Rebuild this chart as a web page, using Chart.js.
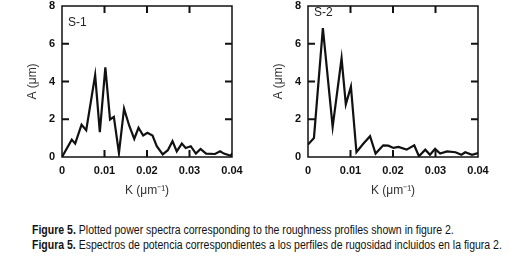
<!DOCTYPE html>
<html>
<head>
<meta charset="utf-8">
<script src="https://cdn.jsdelivr.net/npm/chart.js@4"></script>
<style>
  body { margin: 0; background: #fff; width: 510px; height: 261px; overflow: hidden; position: relative; }
  .panel { position: absolute; top: 0; width: 255px; height: 200px; }
  #panelS1 { left: 0; }
  #panelS2 { left: 255px; }
  .caption { position: absolute; left: 32px; font-family: "Liberation Sans", Arial, sans-serif; font-size: 12px; color: #111; white-space: nowrap; transform-origin: left top; }
  .caption b { font-weight: bold; }
</style>
</head>
<body>
<div class="panel" id="panelS1"><canvas id="chartS1"></canvas></div>
<div class="panel" id="panelS2"><canvas id="chartS2"></canvas></div>
<div class="caption" id="cap1" style="top:223px"><b>Figure 5.</b> Plotted power spectra corresponding to the roughness profiles shown in figure 2.</div>
<div class="caption" id="cap2" style="top:238px"><b>Figura 5.</b> Espectros de potencia correspondientes a los perfiles de rugosidad incluidos en la figura 2.</div>
<script>
// espectros (K en um^-1, A en um)
const s1K = [0, 0.0023, 0.0031, 0.0046, 0.0057, 0.0078, 0.0089, 0.0102, 0.0113, 0.0122, 0.0134,
  0.0146, 0.0158, 0.0170, 0.0180, 0.0191, 0.0201, 0.0213, 0.0223, 0.0237, 0.0249, 0.0260,
  0.0270, 0.0282, 0.0291, 0.0303, 0.0315, 0.0326, 0.0339, 0.0360, 0.0372, 0.0381, 0.0397, 0.0401];
const s1A = [0, 0.92, 0.71, 1.71, 1.42, 4.34, 1.32, 4.75, 1.99, 2.13, 0.21,
  2.56, 1.67, 0.96, 1.55, 1.14, 1.28, 1.14, 0.57, 0.14, 0.36, 0.84,
  0.30, 0.71, 0.48, 0.57, 0.18, 0.43, 0.18, 0.16, 0.30, 0.18, 0.07, 0.21];

const s2K = [0, 0.0014, 0.0035, 0.0058, 0.0079, 0.0089, 0.0101, 0.0114, 0.0130, 0.0146, 0.0159,
  0.0177, 0.0189, 0.0201, 0.0213, 0.0232, 0.0250, 0.0261, 0.0276, 0.0287, 0.0299, 0.0311,
  0.0327, 0.0347, 0.0361, 0.0370, 0.0386, 0.0400];
const s2A = [0.66, 1.01, 6.83, 1.60, 5.23, 2.79, 3.73, 0.25, 0.70, 1.10, 0.18,
  0.62, 0.60, 0.48, 0.53, 0.39, 0.62, 0.04, 0.39, 0.12, 0.43, 0.18,
  0.30, 0.25, 0.12, 0.25, 0.12, 0.21];

const xTicks = [0, 0.01, 0.02, 0.03, 0.04];
const yTicks = [0, 2, 4, 6, 8];
const xTitle = 'K (\u03bcm\u207b\u00b9)';
const yTitle = 'A (\u03bcm)';

// marco y marcas interiores como en la figura original
const framePlugin = {
  id: 'frame',
  afterDraw(chart, args, opts) {
    const { ctx, chartArea: a } = chart;
    const xs = chart.scales.x, ys = chart.scales.y;
    const len = 7;
    ctx.save();
    ctx.strokeStyle = '#111';
    ctx.lineWidth = 1.5;
    ctx.strokeRect(a.left, a.top, a.right - a.left, a.bottom - a.top);
    ctx.lineWidth = 2;
    ctx.beginPath();
    xTicks.slice(1, -1).forEach(v => {
      const px = xs.getPixelForValue(v);
      ctx.moveTo(px, a.bottom); ctx.lineTo(px, a.bottom - len);
      ctx.moveTo(px, a.top); ctx.lineTo(px, a.top + len);
    });
    yTicks.slice(1, -1).forEach(v => {
      const py = ys.getPixelForValue(v);
      ctx.moveTo(a.left, py); ctx.lineTo(a.left + len, py);
      ctx.moveTo(a.right, py); ctx.lineTo(a.right - len, py);
    });
    ctx.stroke();
    // etiqueta de la muestra
    ctx.fillStyle = '#222';
    ctx.font = '12px "Liberation Sans", Arial, sans-serif';
    ctx.textBaseline = 'middle';
    ctx.fillText(opts.label, a.left + opts.dx, a.top + opts.dy);
    ctx.restore();
  }
};

function makeChart(id, kVals, aVals, cfg) {
  const points = kVals.map((k, i) => ({ x: k, y: aVals[i] }));
  return new Chart(document.getElementById(id), {
    type: 'line',
    data: {
      datasets: [{
        data: points,
        borderColor: '#111',
        borderWidth: 2.2,
        pointRadius: 0,
        tension: 0,
        fill: false
      }]
    },
    options: {
      responsive: true,
      maintainAspectRatio: false,
      animation: false,
      layout: { padding: { top: 6, right: cfg.right, left: 0, bottom: 0 } },
      plugins: {
        legend: { display: false },
        tooltip: { enabled: false },
        frame: { label: cfg.label, dx: cfg.labelDx, dy: cfg.labelDy }
      },
      scales: {
        x: {
          type: 'linear',
          min: 0, max: 0.04,
          afterBuildTicks: s => { s.ticks = xTicks.map(v => ({ value: v })); },
          afterFit: s => { s.height = 43; },
          grid: { display: false, drawTicks: false },
          border: { display: false },
          ticks: {
            padding: 7,
            color: '#111',
            maxRotation: 0,
            font: { family: '"Liberation Sans", Arial, sans-serif', size: 11, weight: 'bold' },
            callback: v => v === 0 ? '0' : v.toFixed(2)
          },
          title: {
            display: true, text: xTitle, color: '#333',
            font: { family: '"Liberation Sans", Arial, sans-serif', size: 12 },
            padding: { top: 0, bottom: 2 }
          }
        },
        y: {
          min: 0, max: 8,
          afterBuildTicks: s => { s.ticks = yTicks.map(v => ({ value: v })); },
          afterFit: s => { s.width = cfg.left; s.paddingTop = 0; s.paddingBottom = 0; },
          grid: { display: false, drawTicks: false },
          border: { display: false },
          ticks: {
            padding: 7,
            color: '#111',
            font: { family: '"Liberation Sans", Arial, sans-serif', size: 11, weight: 'bold' }
          },
          title: {
            display: true, text: yTitle, color: '#333',
            font: { family: '"Liberation Sans", Arial, sans-serif', size: 12 },
            padding: { top: cfg.left - 30 - 7, bottom: 0 }
          }
        }
      }
    },
    plugins: [framePlugin]
  });
}

makeChart('chartS1', s1K, s1A, { left: 62, right: 23, label: 'S-1', labelDx: 6, labelDy: 17 });
makeChart('chartS2', s2K, s2A, { left: 53, right: 32, label: 'S-2', labelDx: 6, labelDy: 7 });

// ajustar el ancho del pie de figura al original
[['cap1', 422], ['cap2', 470]].forEach(([id, w]) => {
  const el = document.getElementById(id);
  const sx = w / el.getBoundingClientRect().width;
  el.style.transform = 'scaleX(' + sx.toFixed(3) + ')';
});
</script>
</body>
</html>
